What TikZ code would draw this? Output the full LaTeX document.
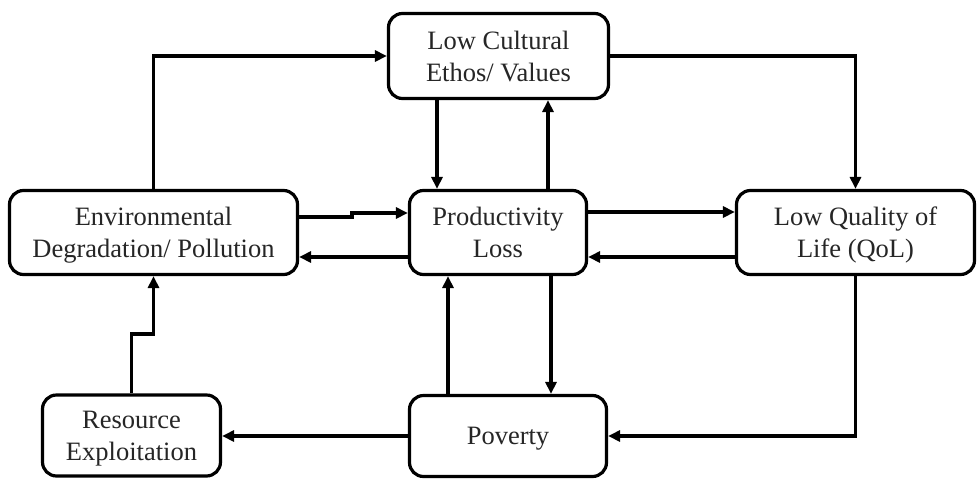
\documentclass[tikz,border=0pt]{standalone}
\usepackage{fontspec}
\setmainfont{Liberation Serif}
\usetikzlibrary{arrows.meta}
\begin{document}
\begin{tikzpicture}[x=1pt,y=-1pt,
  box/.style={draw=black, line width=3.2pt, rounded corners=14pt, fill=white,
    align=center, inner sep=0pt, text depth=0pt, text=black!85,
    font=\fontsize{26.5}{32}\selectfont},
  arr/.style={draw=black, line width=3.2pt,
    -{Triangle[length=12pt,width=11pt]}}]
\useasboundingbox (0,0) rectangle (980,480);

% boxes
\node[box, minimum width=220pt, minimum height=85pt] (Top) at (498.5,56) {Low Cultural\\Ethos/ Values};
\node[box, minimum width=288pt, minimum height=84pt] (Env) at (153.5,232.5) {Environmental\\Degradation/ Pollution};
\node[box, minimum width=177pt, minimum height=84pt] (Prod) at (498,232.5) {Productivity\\Loss};
\node[box, minimum width=238pt, minimum height=84pt] (QoL) at (855.5,232.5) {Low Quality of\\Life (QoL)};
\node[box, minimum width=178pt, minimum height=81pt] (Res) at (131.5,435.5) {Resource\\Exploitation};
\node[box, minimum width=197pt, minimum height=81pt] (Pov) at (508,436) {Poverty};

% connectors around the top box
\draw[arr] (Env.north) |- (Top.west);
\draw[arr] (Top.east) -| (QoL.north);
\draw[arr] (Top.south -| 437,0) -- (Prod.north -| 437,0);
\draw[arr] (Prod.north -| 548,0) -- (Top.south -| 548,0);

% connectors on the middle row
\draw[arr] (Env.east |- 0,217) -- (352,217) -- (352,213) -- (Prod.west |- 0,213);
\draw[arr] (Prod.west |- 0,257) -- (Env.east |- 0,257);
\draw[arr] (Prod.east |- 0,212) -- (QoL.west |- 0,212);
\draw[arr] (QoL.west |- 0,257) -- (Prod.east |- 0,257);

% connectors to and from the bottom row
\draw[arr] (Prod.south -| 551,0) -- (Pov.north -| 551,0);
\draw[arr] (Pov.north -| 448,0) -- (Prod.south -| 448,0);
\draw[arr] (QoL.south) |- (Pov.east);
\draw[arr] (Pov.west) -- (Res.east |- Pov.west);
\draw[arr] (Res.north) -- (Res.north |- 0,334) -| (Env.south);
\end{tikzpicture}
\end{document}
